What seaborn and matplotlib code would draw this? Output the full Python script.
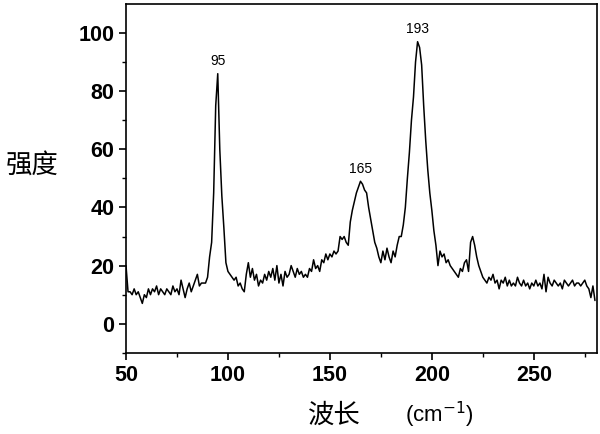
import numpy as np
import pandas as pd
import seaborn as sns
import matplotlib.pyplot as plt

# wavenumber (cm-1) and intensity
wavenumber = list(range(50, 281))
intensity = [
    20, 11, 11, 10, 12, 10, 11, 9, 7, 10,
    9, 12, 10, 12, 11, 13, 10, 12, 11, 10,
    12, 11, 10, 13, 11, 12, 10, 15, 12, 9,
    12, 14, 11, 13, 15, 17, 13, 14, 14, 14,
    16, 23, 28, 45, 75, 86, 60, 44, 33, 21,
    18, 17, 16, 15, 16, 13, 14, 12, 11, 17,
    21, 16, 19, 15, 17, 13, 15, 14, 17, 15,
    18, 16, 19, 15, 20, 14, 17, 13, 18, 16,
    17, 20, 18, 16, 19, 17, 18, 16, 17, 16,
    19, 18, 22, 19, 20, 18, 22, 21, 24, 22,
    24, 23, 25, 24, 25, 30, 29, 30, 28, 27,
    35, 39, 42, 45, 47, 49, 48, 46, 45, 40,
    36, 32, 28, 26, 23, 21, 25, 22, 26, 23,
    21, 25, 23, 27, 30, 30, 34, 40, 50, 59,
    70, 78, 90, 97, 95, 89, 75, 63, 53, 45,
    39, 32, 27, 20, 25, 23, 24, 21, 22, 20,
    19, 18, 17, 16, 19, 18, 21, 22, 18, 28,
    30, 27, 23, 20, 18, 16, 15, 14, 16, 15,
    17, 14, 15, 12, 15, 14, 16, 13, 15, 13,
    14, 13, 16, 14, 13, 15, 13, 14, 12, 14,
    13, 15, 13, 14, 12, 17, 11, 16, 14, 13,
    15, 14, 13, 14, 12, 15, 14, 13, 14, 15,
    13, 14, 14, 13, 14, 15, 13, 12, 9, 13, 8,
]
peak_pos = [95, 165, 193]
peak_val = [86, 49, 97]
peak_text = ["95", "165", "193"]

df = pd.DataFrame({"wavenumber": wavenumber, "intensity": intensity})

sns.set_style("ticks", {"axes.edgecolor": "black", "text.color": "black",
                        "xtick.color": "black", "ytick.color": "black"})
plt.rcParams['font.family'] = ['Liberation Sans', 'DejaVu Sans']

fig = plt.figure(figsize=(6, 4.34), dpi=100)
ax = fig.add_axes([0.21, 0.187, 0.785, 0.804])

sns.lineplot(data=df, x="wavenumber", y="intensity", color="black", linewidth=1.1, ax=ax)

for xp, yp, t in zip(peak_pos, peak_val, peak_text):
    ax.annotate(t, (xp, yp), xytext=(0, 4), textcoords="offset points",
                ha="center", va="bottom", fontsize=10, color="black")

ax.set_xlim(50, 281)
ax.set_ylim(-10, 110)
ax.set_xticks([50, 100, 150, 200, 250])
ax.set_xticks([75, 125, 175, 225, 275], minor=True)
ax.set_yticks([0, 20, 40, 60, 80, 100])
ax.set_yticks([-10, 10, 30, 50, 70, 90], minor=True)
ax.tick_params(which="major", direction="out", length=5, width=1.2, labelsize=15.5,
               colors="black")
ax.tick_params(which="minor", direction="out", length=3, width=1.0, colors="black")
for lab in ax.get_xticklabels() + ax.get_yticklabels():
    lab.set_fontweight("bold")
for s in ax.spines.values():
    s.set_linewidth(1.2)
    s.set_color("black")
    s.set_visible(True)

cjk = ['Noto Sans CJK SC', 'DejaVu Sans']
ax.set_xlabel("")
ax.set_ylabel("")
fig.text(0.557, 0.044, "波长", family=cjk, fontsize=19, ha="center", va="center", color="black")
fig.text(0.675, 0.044, "(cm$^{-1}$)", fontsize=16, ha="left", va="center", color="black")
fig.text(0.054, 0.62, "强度", family=cjk, fontsize=19, ha="center", va="center", color="black")

fig.savefig("out.png", dpi=100)
